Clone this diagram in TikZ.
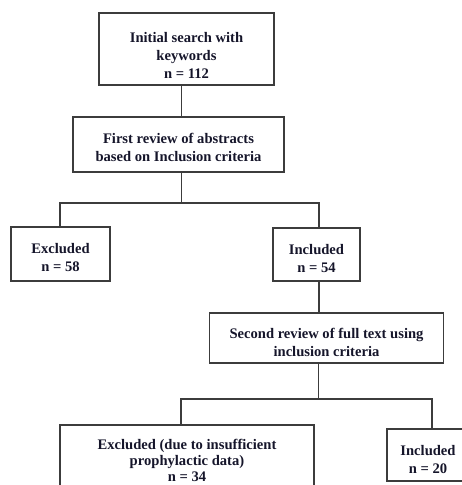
\documentclass[tikz,border=0pt]{standalone}
\usepackage{fontspec}
\setmainfont{Liberation Serif}
\definecolor{txt}{HTML}{15152A}
\definecolor{ln}{HTML}{3C3C3C}
\begin{document}
\begin{tikzpicture}[x=1pt,y=-1pt,
  box/.style={draw=ln, line width=1.3pt, rectangle, inner sep=0pt},
  lbl/.style={inner sep=0pt, align=center, text=txt,
    font=\fontsize{14.6}{18}\selectfont\bfseries},
  conn/.style={draw=ln, line width=1.2pt}]
\useasboundingbox (0,0) rectangle (462,485);
\clip (0,0) rectangle (462,485);
% boxes
\node[box, minimum width=175pt, minimum height=72pt] (b1) at (186.5,49) {};
\node[box, minimum width=211pt, minimum height=55pt] (b2) at (178.5,144.5) {};
\node[box, minimum width=99pt, minimum height=54pt] (e1) at (60.5,254) {};
\node[box, minimum width=87pt, minimum height=53pt] (i1) at (316.5,254.5) {};
\node[box, minimum width=234pt, minimum height=50pt] (b3) at (326.5,338) {};
\node[box, minimum width=254pt, minimum height=72pt] (e2) at (187,461) {};
\node[box, minimum width=82pt, minimum height=52pt] (i2) at (428,455) {};
% texts
\node[lbl] (t1) at ([yshift=-6pt]b1.center) {Initial search with\\keywords\\n = 112};
\node[lbl] (t2) at ([yshift=-3pt]b2.center) {First review of abstracts\\based on Inclusion criteria};
\node[lbl] (t3) at ([yshift=-4pt]e1.center) {Excluded\\n = 58};
\node[lbl] (t4) at ([yshift=-4pt]i1.center) {Included\\n = 54};
\node[lbl] (t5) at ([yshift=-4pt]b3.center) {Second review of full text using\\inclusion criteria};
\node[lbl, font=\fontsize{14.6}{15.8}\selectfont\bfseries] (t6) at ([yshift=0.5pt]e2.center) {Excluded (due to insufficient\\prophylactic data)\\n = 34};
\node[lbl] (t7) at ([yshift=-5pt]i2.center) {Included\\n = 20};
% connectors
\coordinate (c1) at (181.5,203);
\coordinate (s1) at (60,203);
\coordinate (s2) at (319,203);
\coordinate (c2) at (318.5,399);
\coordinate (s3) at (181,399);
\coordinate (s4) at (432,399);
\draw[conn] (b1.south -| c1) -- (b2.north -| c1);
\draw[conn] (b2.south -| c1) -- (c1);
\draw[conn] (e1.north -| s1) -- (s1) -- (s2) -- (i1.north -| s2);
\draw[conn] (i1.south -| s2) -- (b3.north -| s2);
\draw[conn] (b3.south -| c2) -- (c2);
\draw[conn] (e2.north -| s3) -- (s3) -- (s4) -- (i2.north -| s4);
\end{tikzpicture}
\end{document}
